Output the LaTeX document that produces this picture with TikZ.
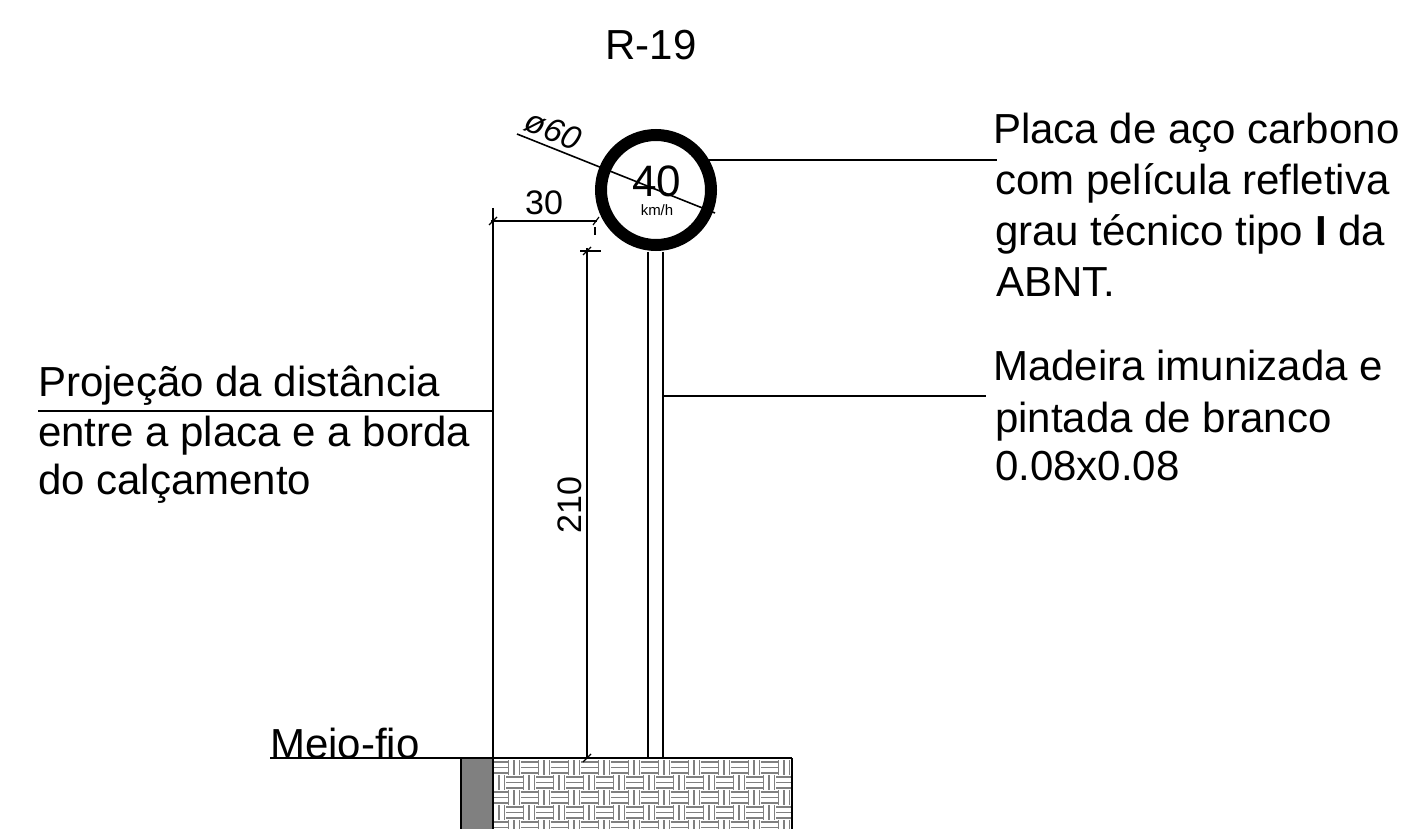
\documentclass[tikz,border=0pt]{standalone}
\usepackage{fontspec}
\setmainfont{Liberation Sans}
\tikzset{
  lbl/.style={inner sep=0pt,anchor=base west,font=\fontsize{42}{50}\selectfont},
  dimlbl/.style={inner sep=0pt,font=\fontsize{34}{40}\selectfont},
  thin line/.style={draw=black,line width=1.6pt},
  tick/.style={draw=black,line width=1.2pt},
  weave/.style={draw=black!50,line width=1.7pt}
}
\begin{document}
\begin{tikzpicture}[x=1pt,y=-1pt]
\useasboundingbox (0,0) rectangle (1417,829);
% pavement pattern
\fill[black!50] (461,758) rectangle (493,829);
\begin{scope}
\clip (493,759) rectangle (792,829);
\foreach \i in {0,...,20}{
  \foreach \j in {0,...,5}{
    \pgfmathsetmacro{\cx}{491+15*\i}
    \pgfmathsetmacro{\cy}{760+15*\j}
    \pgfmathtruncatemacro{\parity}{mod(\i+\j,2)}
    \ifnum\parity=0
      \foreach \k in {3,8.5,14}{
        \draw[weave] (\cx,\cy+\k-1) -- ++(17,0);
      }
    \else
      \foreach \k in {2.5,8,13.5}{
        \draw[weave] (\cx+\k,\cy) -- ++(0,15);
      }
    \fi
  }
}
\end{scope}
\coordinate (gl) at (270,758);
\coordinate (gr) at (792,758);
\coordinate (bl) at (461,829);
\coordinate (bm) at (493,829);
\coordinate (br) at (792,829);
\draw[thin line] (gl) -- (gr);
\draw[thin line] (461,758) -- (bl);
\draw[thin line] (493,758) -- (bm);
\draw[thin line] (gr) -- (br);
% post
\draw[thin line] (648,252) -- (648,758);
\draw[thin line] (663,252) -- (663,758);
% sign
\node[circle,draw=black,fill=white,line width=12pt,minimum size=110pt,inner sep=0pt] (sign) at (656,190) {};
\node[inner sep=0pt,font=\fontsize{44}{50}\selectfont] (speed) at (657,181) {40};
\node[inner sep=0pt,font=\fontsize{15}{17}\selectfont] (unit) at (657,210) {km/h};
% diameter
\coordinate (d1) at (517,134);
\coordinate (d2) at (715,213);
\draw[thin line] (d1) -- (d2);
\node[inner sep=0pt,font=\fontsize{33}{38}\selectfont,rotate=-22] (dia) at (553,130) {\itshape ø60};
% dimension 30
\coordinate (v1) at (493,208);
\coordinate (v2) at (493,758);
\draw[thin line] (v1) -- (v2);
\coordinate (h1) at (491,221);
\coordinate (h2) at (597,221);
\draw[thin line] (h1) -- (h2);
\draw[tick] (489,225) -- (497,217);
\draw[tick] (593,225) -- (599,217);
\node[dimlbl] (thirty) at (544,203) {30};
\draw[tick] (595,227) -- (595,235);
% dimension 210
\coordinate (t1) at (580,251);
\coordinate (t2) at (601,251);
\draw[thin line] (t1) -- (t2);
\coordinate (w1) at (587,248);
\coordinate (w2) at (587,758);
\draw[thin line] (w1) -- (w2);
\draw[tick] (583,255) -- (591,247);
\draw[tick] (583,762) -- (591,754);
\node[dimlbl,rotate=90] (twoten) at (570,505) {210};
% leaders
\coordinate (a1) at (708,160);
\coordinate (a2) at (997,160);
\draw[thin line] (a1) -- (a2);
\coordinate (b1) at (663,396);
\coordinate (b2) at (986,396);
\draw[thin line] (b1) -- (b2);
\coordinate (c1) at (38,411);
\coordinate (c2) at (493,411);
\draw[thin line] (c1) -- (c2);
% texts
\node[inner sep=0pt,font=\fontsize{42}{50}\selectfont] (title) at (651,45) {R-19};
\node[lbl] (p1) at (993,144) {Placa de aço carbono};
\node[lbl] (p2) at (995,195) {com película refletiva};
\node[lbl] (p3) at (995,246) {grau técnico tipo \textbf{I} da};
\node[lbl] (p4) at (996,297) {ABNT.};
\node[lbl] (m1) at (993,380) {Madeira imunizada e};
\node[lbl] (m2) at (995,432) {pintada de branco};
\node[lbl] (m3) at (995,480) {0.08x0.08};
\node[lbl] (l1) at (38,396) {Projeção da distância};
\node[lbl] (l2) at (38,446) {entre a placa e a borda};
\node[lbl] (l3) at (38,494) {do calçamento};
\node[lbl] (mf) at (270,758) {Meio-fio};
\end{tikzpicture}
\end{document}
